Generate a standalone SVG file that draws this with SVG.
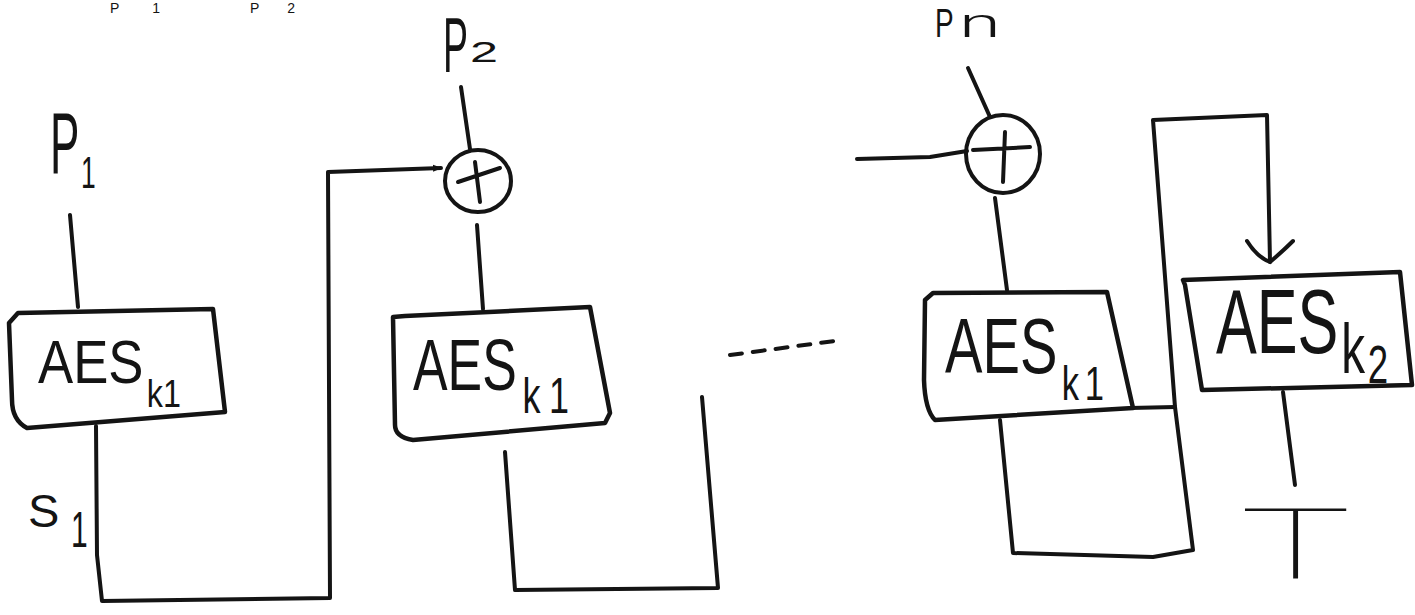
<svg xmlns="http://www.w3.org/2000/svg" width="1415" height="615" viewBox="0 0 1415 615">
<style>
.ln{fill:none;stroke:#141414;stroke-width:4;stroke-linecap:round;stroke-linejoin:round}
.bx{fill:#ffffff;stroke:#141414;stroke-width:4.5;stroke-linecap:round;stroke-linejoin:round}
.t{font-family:"Liberation Sans",Arial,sans-serif;fill:#141414}
.thin{font-family:Roboto,Lato,"Open Sans","Liberation Sans",sans-serif;font-weight:100;fill:#141414}
.light{font-family:Roboto,Lato,"Open Sans","Liberation Sans",sans-serif;font-weight:300;fill:#141414}
</style>
<defs>
<marker id="arr" markerWidth="10" markerHeight="10" refX="8" refY="5" orient="auto" markerUnits="userSpaceOnUse">
<path d="M0,1.5 L9,5 L0,8.5 Z" fill="#141414"/>
</marker>
<marker id="vee" markerWidth="54" markerHeight="30" refX="25" refY="25" orient="0" markerUnits="userSpaceOnUse">
<path d="M2,4 Q12,20 25,25 Q38,14 48,4" fill="none" stroke="#141414" stroke-width="4" stroke-linecap="round"/>
</marker>
</defs>
<rect width="1415" height="615" fill="#ffffff"/>

<g id="top-text">
<text class="t" x="110" y="13" font-size="14" textLength="50" lengthAdjust="spacing">P1</text>
<text class="t" x="250" y="13" font-size="14" textLength="45" lengthAdjust="spacing">P2</text>
</g>

<g id="connectors">
<path class="ln" d="M70,215 L78,307"/>
<path class="ln" d="M96,426 L97,555 L102,601 L330,598 L328,172 L441,168" marker-end="url(#arr)"/>
<path class="ln" d="M461,87 L470,149"/>
<path class="ln" d="M477,225 L483,309"/>
<path class="ln" d="M505,452 L515,590 L718,588 L702,397"/>
<path class="ln" d="M730,355 L842,340" stroke-dasharray="12 11"/>
<path class="ln" d="M968,68 L990,117"/>
<path class="ln" d="M857,159 L930,157 L967,151"/>
<path class="ln" d="M995,198 L1007,290"/>
<path class="ln" d="M1000,420 L1013,553 L1153,557 L1193,550 L1175,407 L1153,120 L1267,115 L1270,262" marker-end="url(#vee)"/>
<path class="ln" d="M1130,408 L1175,407"/>
<path class="ln" d="M1283,392 L1295,485"/>
</g>

<g id="p1">
<text class="t" transform="translate(50,173) scale(0.5,1)" font-size="88">P</text>
<text class="t" x="81" y="188" font-size="44" transform="translate(81,0) scale(0.6,1) translate(-81,0)">1</text>
</g>

<g id="aes1">
<path class="bx" d="M18,313 L213,309 L225,412 L27,428 Q12,420 12,400 L9,323 Z"/>
<text class="t" transform="translate(38,383) scale(0.85,1)" font-size="62">AES<tspan font-size="38" dx="4" dy="24">k1</tspan></text>
</g>

<g id="s1">
<text class="t" x="28" y="527" font-size="47">S</text>
<text class="t" x="71" y="547" font-size="50" transform="translate(71,0) scale(0.6,1) translate(-71,0)">1</text>
</g>

<g id="p2">
<text class="t" transform="translate(443,72) scale(0.48,1)" font-size="78">P</text>
<text class="t" x="470" y="62" font-size="30" textLength="28" lengthAdjust="spacingAndGlyphs">2</text>
</g>

<g id="xor2">
<ellipse class="ln" cx="478" cy="181" rx="33" ry="31"/>
<path class="ln" d="M475,162 L480,202 M458,182 L500,168"/>
</g>

<g id="aes2">
<path class="bx" d="M405,316 L590,307 L610,413 L605,423 L413,440 Q395,437 395,425 L393,317 Z"/>
<text class="t" transform="translate(413,390) scale(0.72,1)" font-size="72">AES<tspan font-size="50" dx="8" dy="23" letter-spacing="12">k1</tspan></text>
</g>

<g id="pn">
<text class="t" transform="translate(935,37) scale(0.7,1)" font-size="40">P</text>
<text class="light" transform="translate(959,37) scale(1.9,1)" font-size="40">n</text>
</g>

<g id="xor3">
<ellipse class="ln" cx="1003" cy="154" rx="37" ry="39"/>
<path class="ln" d="M1005,132 L1003,182 M973,150 L1030,147"/>
</g>

<g id="aes3">
<path class="bx" d="M933,293 L1107,292 L1133,408 L935,420 Q925,410 924,380 L925,300 Z"/>
<text class="t" transform="translate(945,373) scale(0.72,1)" font-size="78">AES<tspan font-size="48" dx="6" dy="27" letter-spacing="8">k1</tspan></text>
</g>

<g id="aes4">
<path class="bx" d="M1183,280 L1400,272 L1412,385 L1202,390 L1185,285 Z"/>
<text class="t" transform="translate(1216,353) scale(0.68,1)" font-size="90">AES<tspan font-size="70" dx="4" dy="20">k</tspan><tspan font-size="54" dx="4" dy="10">2</tspan></text>
</g>

<g id="tag">
<text class="thin" transform="translate(1240,578) scale(1.9,1)" font-size="98">T</text>
</g>
</svg>
